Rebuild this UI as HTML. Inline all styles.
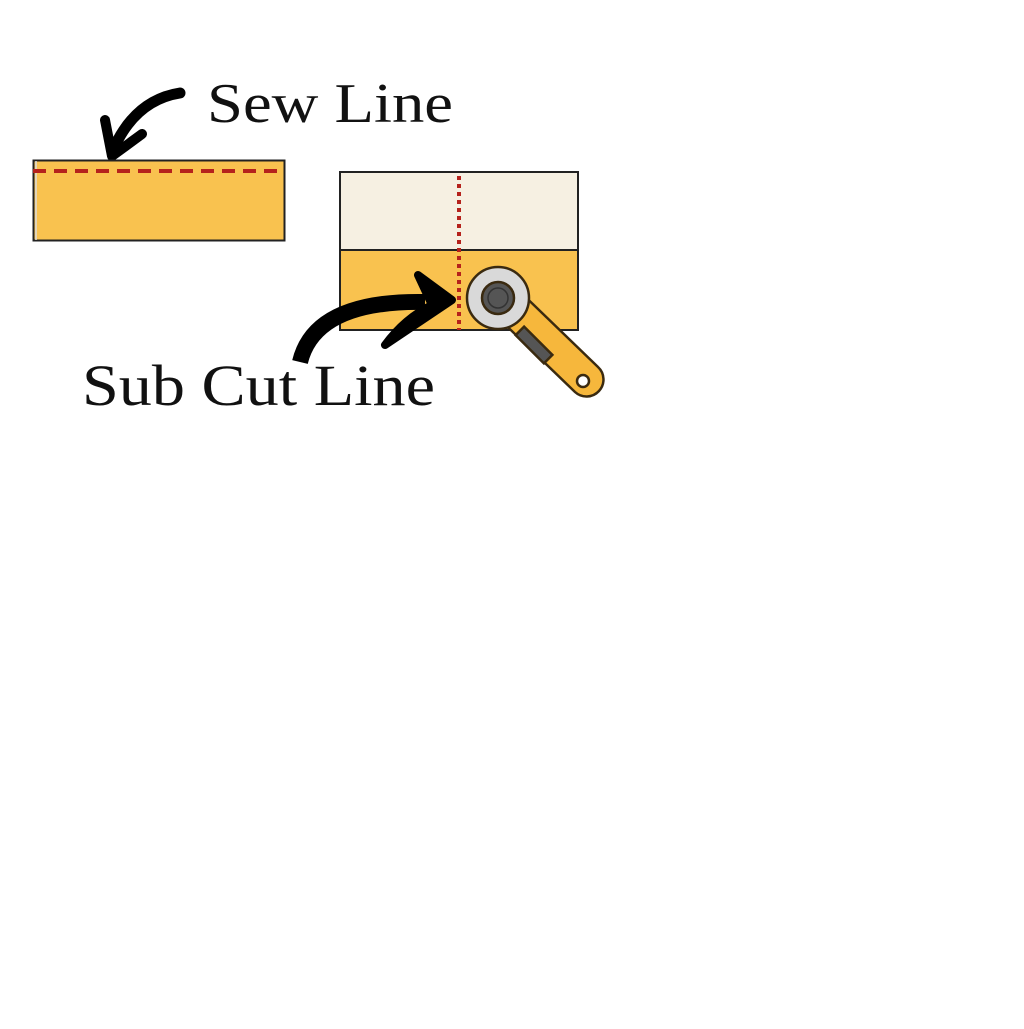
<!DOCTYPE html>
<html><head><style>html,body{margin:0;padding:0;background:#fff;}</style></head>
<body>
<svg width="1024" height="1024" viewBox="0 0 1024 1024" xmlns="http://www.w3.org/2000/svg">
<rect width="1024" height="1024" fill="#fff"/>
<text x="207" y="122" font-family="Liberation Serif, serif" font-size="56" fill="#111" textLength="246" lengthAdjust="spacingAndGlyphs">Sew Line</text>
<path d="M180 93 Q135 100 113 150" stroke="#000" stroke-width="11" fill="none" stroke-linecap="round"/>
<path d="M105 120 L112 156 L142 134" stroke="#000" stroke-width="10" fill="none" stroke-linecap="round" stroke-linejoin="round"/>
<rect x="33.5" y="160.5" width="251" height="80" fill="#f9c24f" stroke="#222" stroke-width="2"/>
<line x1="36" y1="161" x2="36" y2="240" stroke="#ddd" stroke-width="1.5"/>
<line x1="33" y1="171" x2="285" y2="171" stroke="#b5221c" stroke-width="4" stroke-dasharray="13,8"/>
<rect x="340" y="172" width="238" height="78" fill="#f6f0e2" stroke="#222" stroke-width="2"/>
<rect x="340" y="250" width="238" height="80" fill="#f9c24f" stroke="#222" stroke-width="2"/>
<line x1="459" y1="176" x2="459" y2="330" stroke="#b5221c" stroke-width="4" stroke-dasharray="4,4"/>
<path d="M300 362 Q315 300 425 302" stroke="#000" stroke-width="16" fill="none"/>
<path d="M418 275 L452 300 L385 345 Q405 318 432 305 Z" fill="#000" stroke="#000" stroke-width="8" stroke-linejoin="round"/>
<g stroke="#3a2a10" stroke-width="2.5">
<path d="M510 282 L598 367 A15 15 0 0 1 575 392 L488 308 Z" fill="#f6b73c"/>
<rect x="528" y="325" width="12" height="40" transform="rotate(-45 534 345)" fill="#555"/>
<circle cx="583" cy="381" r="6" fill="#fff"/>
<circle cx="498" cy="298" r="31" fill="#d9d9d9"/>
<circle cx="498" cy="298" r="16" fill="#555"/>
<circle cx="498" cy="298" r="10" fill="none" stroke="#333" stroke-width="1.5"/>
</g>
<text x="82" y="405" font-family="Liberation Serif, serif" font-size="58" fill="#111" textLength="353" lengthAdjust="spacingAndGlyphs">Sub Cut Line</text>
</svg>
</body></html>
